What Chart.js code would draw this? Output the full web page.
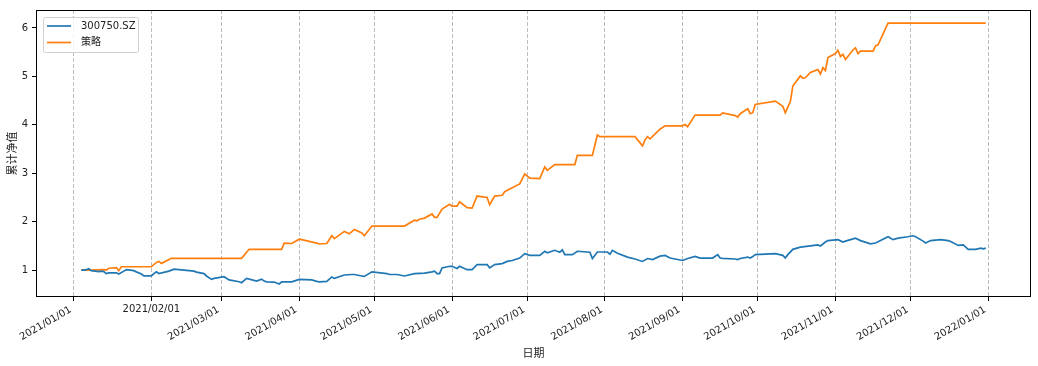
<!DOCTYPE html>
<html>
<head>
<meta charset="utf-8">
<script src="https://cdn.jsdelivr.net/npm/chart.js@4.4.1/dist/chart.umd.min.js"></script>
<style>
  html, body { margin: 0; padding: 0; background: #fff; }
</style>
</head>
<body>
<canvas id="navChart" width="1038" height="366"></canvas>
<script>
// month tick labels on the date axis
const tickLabels = ["2021/01/01", "2021/02/01", "2021/03/01", "2021/04/01", "2021/05/01", "2021/06/01",
  "2021/07/01", "2021/08/01", "2021/09/01", "2021/10/01", "2021/11/01", "2021/12/01", "2022/01/01"];
const yTicks = [1, 2, 3, 4, 5, 6];

// 300750.SZ cumulative NAV
const stockDates = [
  "2021-01-04", "2021-01-05", "2021-01-06", "2021-01-07", "2021-01-08", "2021-01-11", "2021-01-12", "2021-01-13",
  "2021-01-14", "2021-01-15", "2021-01-18", "2021-01-19", "2021-01-21", "2021-01-22", "2021-01-25", "2021-01-26",
  "2021-01-28", "2021-01-29", "2021-02-01", "2021-02-02", "2021-02-03", "2021-02-04", "2021-02-08", "2021-02-10",
  "2021-02-18", "2021-02-19", "2021-02-22", "2021-02-23", "2021-02-25", "2021-02-26", "2021-03-02", "2021-03-04",
  "2021-03-08", "2021-03-09", "2021-03-11", "2021-03-15", "2021-03-17", "2021-03-18", "2021-03-19", "2021-03-22",
  "2021-03-24", "2021-03-25", "2021-03-29", "2021-04-01", "2021-04-06", "2021-04-08", "2021-04-09", "2021-04-12",
  "2021-04-14", "2021-04-15", "2021-04-19", "2021-04-22", "2021-04-23", "2021-04-26", "2021-04-27", "2021-04-30",
  "2021-05-06", "2021-05-07", "2021-05-10", "2021-05-12", "2021-05-13", "2021-05-17", "2021-05-21", "2021-05-24",
  "2021-05-25", "2021-05-26", "2021-05-27", "2021-05-28", "2021-05-31", "2021-06-01", "2021-06-03", "2021-06-04",
  "2021-06-07", "2021-06-09", "2021-06-11", "2021-06-15", "2021-06-16", "2021-06-18", "2021-06-21", "2021-06-23",
  "2021-06-25", "2021-06-28", "2021-06-30", "2021-07-02", "2021-07-06", "2021-07-08", "2021-07-09", "2021-07-12",
  "2021-07-14", "2021-07-15", "2021-07-16", "2021-07-19", "2021-07-21", "2021-07-26", "2021-07-27", "2021-07-29",
  "2021-08-02", "2021-08-03", "2021-08-04", "2021-08-06", "2021-08-10", "2021-08-13", "2021-08-16", "2021-08-18",
  "2021-08-20", "2021-08-23", "2021-08-25", "2021-08-27", "2021-08-30", "2021-09-01", "2021-09-03", "2021-09-06",
  "2021-09-08", "2021-09-13", "2021-09-15", "2021-09-16", "2021-09-17", "2021-09-22", "2021-09-23", "2021-09-24",
  "2021-09-27", "2021-09-28", "2021-09-29", "2021-09-30", "2021-10-08", "2021-10-11", "2021-10-12", "2021-10-13",
  "2021-10-15", "2021-10-18", "2021-10-22", "2021-10-25", "2021-10-26", "2021-10-28", "2021-10-29", "2021-11-02",
  "2021-11-04", "2021-11-05", "2021-11-09", "2021-11-11", "2021-11-15", "2021-11-17", "2021-11-19", "2021-11-22",
  "2021-11-24", "2021-11-26", "2021-11-30", "2021-12-02", "2021-12-03", "2021-12-06", "2021-12-07", "2021-12-09",
  "2021-12-13", "2021-12-16", "2021-12-17", "2021-12-20", "2021-12-22", "2021-12-24", "2021-12-27", "2021-12-29",
  "2021-12-30", "2021-12-31"];
const stockValues = [
  1.00, 1.00, 1.01, 1.03, 0.99, 0.97, 0.98, 0.97,
  0.93, 0.945, 0.945, 0.92, 0.98, 1.01, 0.99, 0.965,
  0.92, 0.88, 0.88, 0.93, 0.965, 0.93, 0.98, 1.02,
  0.98, 0.96, 0.93, 0.88, 0.81, 0.83, 0.865, 0.80,
  0.76, 0.74, 0.83, 0.775, 0.815, 0.775, 0.76, 0.755,
  0.715, 0.76, 0.76, 0.81, 0.80, 0.77, 0.76, 0.77,
  0.86, 0.83, 0.90, 0.91, 0.91, 0.88, 0.87, 0.965,
  0.93, 0.91, 0.91, 0.89, 0.88, 0.93, 0.94, 0.965,
  0.98, 0.93, 0.93, 1.047, 1.08, 1.08, 1.035, 1.08,
  1.01, 1.01, 1.115, 1.115, 1.047, 1.115, 1.135, 1.18,
  1.20, 1.25, 1.34, 1.305, 1.305, 1.39, 1.36, 1.41,
  1.37, 1.42, 1.32, 1.32, 1.39, 1.37, 1.24, 1.375,
  1.375, 1.33, 1.41, 1.35, 1.27, 1.23, 1.18, 1.24,
  1.22, 1.29, 1.305, 1.25, 1.22, 1.20, 1.24, 1.285,
  1.25, 1.25, 1.32, 1.25, 1.245, 1.23, 1.22, 1.24,
  1.27, 1.25, 1.28, 1.32, 1.34, 1.305, 1.25, 1.32,
  1.43, 1.475, 1.50, 1.52, 1.50, 1.58, 1.61, 1.63,
  1.58, 1.60, 1.66, 1.61, 1.545, 1.56, 1.61, 1.69,
  1.63, 1.66, 1.69, 1.71, 1.69, 1.60, 1.56, 1.61,
  1.63, 1.61, 1.59, 1.51, 1.52, 1.43, 1.43, 1.455,
  1.44, 1.455];

// strategy cumulative NAV
const strategyDates = [
  "2021-01-04", "2021-01-08", "2021-01-13", "2021-01-14", "2021-01-15", "2021-01-18", "2021-01-19", "2021-01-20",
  "2021-02-01", "2021-02-03", "2021-02-04", "2021-02-05", "2021-02-09", "2021-03-09", "2021-03-12", "2021-03-25",
  "2021-03-26", "2021-03-29", "2021-04-01", "2021-04-02", "2021-04-08", "2021-04-09", "2021-04-12", "2021-04-14",
  "2021-04-15", "2021-04-19", "2021-04-21", "2021-04-23", "2021-04-26", "2021-04-27", "2021-04-30", "2021-05-13",
  "2021-05-17", "2021-05-18", "2021-05-19", "2021-05-21", "2021-05-24", "2021-05-25", "2021-05-26", "2021-05-28",
  "2021-05-31", "2021-06-01", "2021-06-03", "2021-06-04", "2021-06-07", "2021-06-09", "2021-06-11", "2021-06-15",
  "2021-06-16", "2021-06-18", "2021-06-21", "2021-06-22", "2021-06-25", "2021-06-28", "2021-06-30", "2021-07-02",
  "2021-07-06", "2021-07-08", "2021-07-09", "2021-07-12", "2021-07-20", "2021-07-21", "2021-07-27", "2021-07-29",
  "2021-07-30", "2021-08-13", "2021-08-16", "2021-08-17", "2021-08-18", "2021-08-19", "2021-08-23", "2021-08-25",
  "2021-09-01", "2021-09-02", "2021-09-03", "2021-09-06", "2021-09-16", "2021-09-17", "2021-09-22", "2021-09-23",
  "2021-09-24", "2021-09-27", "2021-09-28", "2021-09-29", "2021-09-30", "2021-10-08", "2021-10-11", "2021-10-12",
  "2021-10-14", "2021-10-15", "2021-10-18", "2021-10-19", "2021-10-20", "2021-10-22", "2021-10-25", "2021-10-26",
  "2021-10-27", "2021-10-28", "2021-10-29", "2021-11-01", "2021-11-02", "2021-11-03", "2021-11-04", "2021-11-05",
  "2021-11-08", "2021-11-09", "2021-11-10", "2021-11-11", "2021-11-16", "2021-11-17", "2021-11-18", "2021-11-22",
  "2021-12-31"];
const strategyValues = [
  1.00, 1.00, 1.01, 1.00, 1.04, 1.05, 0.99, 1.07,
  1.07, 1.16, 1.18, 1.14, 1.245, 1.245, 1.43, 1.43,
  1.557, 1.55, 1.64, 1.63, 1.557, 1.54, 1.55, 1.71,
  1.65, 1.80, 1.75, 1.84, 1.77, 1.71, 1.91, 1.91,
  2.03, 2.02, 2.05, 2.075, 2.16, 2.09, 2.09, 2.26,
  2.36, 2.32, 2.32, 2.41, 2.29, 2.28, 2.53, 2.50,
  2.35, 2.53, 2.545, 2.62, 2.70, 2.78, 2.99, 2.90,
  2.89, 3.13, 3.06, 3.18, 3.18, 3.37, 3.37, 3.79,
  3.755, 3.755, 3.565, 3.69, 3.755, 3.71, 3.91, 3.98,
  3.98, 4.006, 3.96, 4.20, 4.20, 4.245, 4.19, 4.16,
  4.23, 4.33, 4.23, 4.25, 4.42, 4.49, 4.38, 4.25,
  4.48, 4.80, 5.01, 4.96, 4.97, 5.08, 5.14, 5.05,
  5.18, 5.12, 5.39, 5.47, 5.54, 5.41, 5.455, 5.35,
  5.545, 5.59, 5.47, 5.52, 5.52, 5.63, 5.65, 6.10,
  6.10];

const base = Date.UTC(2021, 0, 1);
const toDay = s => (Date.parse(s.replace(/\//g, "-")) - base) / 86400000;
const tickDays = tickLabels.map(toDay);
const flatTick = 1; // this one label sits level in the reference

const font = '"DejaVu Sans", "Noto Sans CJK SC", sans-serif';
Chart.defaults.font.family = font;

const framePlugin = {
  id: "frame",
  afterDatasetsDraw(chart) {
    const { ctx, chartArea: a } = chart;
    ctx.save();
    ctx.strokeStyle = "#000";
    ctx.lineWidth = 1;
    ctx.strokeRect(Math.round(a.left) + 0.5, Math.round(a.top) + 0.5,
      Math.round(a.right - a.left) - 1, Math.round(a.bottom - a.top) - 1);
    ctx.restore();
  },
  afterDraw(chart) {
    const { ctx, chartArea: a, scales: { x } } = chart;
    ctx.save();
    // x tick labels, rotated like the original
    ctx.font = "10px " + font;
    ctx.fillStyle = "#222";
    const top = a.bottom + 7;
    const ang = Math.PI / 6;
    tickLabels.forEach((lab, i) => {
      const px = x.getPixelForValue(tickDays[i]);
      if (i === flatTick) {
        ctx.textAlign = "center";
        ctx.textBaseline = "top";
        ctx.fillText(lab, px, top);
        return;
      }
      const w = ctx.measureText(lab).width, h = 12;
      const bw = w * Math.cos(ang) + h * Math.sin(ang);
      const bh = w * Math.sin(ang) + h * Math.cos(ang);
      ctx.save();
      ctx.translate(px - bw / 2, top + bh / 2);
      ctx.rotate(-ang);
      ctx.textAlign = "center";
      ctx.textBaseline = "middle";
      ctx.fillText(lab, 0, 0);
      ctx.restore();
    });

    // legend box in the upper left corner
    const lx = a.left + 7, ly = a.top + 7, lw = 95, lh = 35;
    ctx.beginPath();
    ctx.roundRect(lx + 0.5, ly + 0.5, lw, lh, 2);
    ctx.fillStyle = "rgba(255,255,255,0.8)";
    ctx.fill();
    ctx.strokeStyle = "#d0d0d0";
    ctx.stroke();
    ctx.font = "10px " + font;
    ctx.textAlign = "left";
    ctx.textBaseline = "middle";
    chart.data.datasets.forEach((ds, i) => {
      const yy = ly + 9 + i * 16.5;
      ctx.beginPath();
      ctx.moveTo(lx + 4, yy);
      ctx.lineTo(lx + 28, yy);
      ctx.strokeStyle = ds.borderColor;
      ctx.lineWidth = 1.7;
      ctx.stroke();
      ctx.fillStyle = "#222";
      ctx.fillText(ds.label, lx + 38, yy);
    });
    ctx.restore();
  }
};

new Chart(document.getElementById("navChart"), {
  type: "line",
  data: {
    datasets: [
      {
        label: "300750.SZ",
        data: stockDates.map((d, i) => ({ x: toDay(d), y: stockValues[i] })),
        borderColor: "#1f77b4",
        borderWidth: 1.7,
        pointRadius: 0,
        tension: 0,
        fill: false,
      },
      {
        label: "策略",
        data: strategyDates.map((d, i) => ({ x: toDay(d), y: strategyValues[i] })),
        borderColor: "#ff7f0e",
        borderWidth: 1.7,
        pointRadius: 0,
        tension: 0,
        fill: false,
      },
    ],
  },
  options: {
    responsive: false,
    animation: false,
    layout: { padding: { top: 6, right: 7, left: 0, bottom: 0 } },
    plugins: { legend: { display: false }, tooltip: { enabled: false } },
    scales: {
      x: {
        type: "linear",
        min: -15.05,
        max: 382.05,
        afterBuildTicks: s => { s.ticks = tickDays.map(v => ({ value: v })); },
        afterFit: s => { s.height = 69; },
        ticks: { display: false },
        grid: {
          color: "#bdbdbd", lineWidth: 1, borderDash: [4, 2],
          tickLength: 4, tickColor: "#000", tickWidth: 1, tickBorderDash: [],
        },
        border: { display: false, dash: [4, 2] },
        title: {
          display: true, text: "日期", color: "#222",
          font: { size: 11 }, padding: { top: 0, bottom: 5 },
        },
      },
      y: {
        min: 0.446,
        max: 6.37,
        afterBuildTicks: s => { s.ticks = yTicks.map(v => ({ value: v })); },
        afterFit: s => { s.width = 36; },
        ticks: { color: "#222", font: { size: 10 }, padding: 4 },
        grid: { drawOnChartArea: false, tickLength: 4, tickColor: "#000" },
        border: { display: false },
        title: {
          display: true, text: "累计净值", color: "#222",
          font: { size: 11 }, padding: { top: 7, bottom: 0 },
        },
      },
    },
  },
  plugins: [framePlugin],
});
</script>
</body>
</html>
